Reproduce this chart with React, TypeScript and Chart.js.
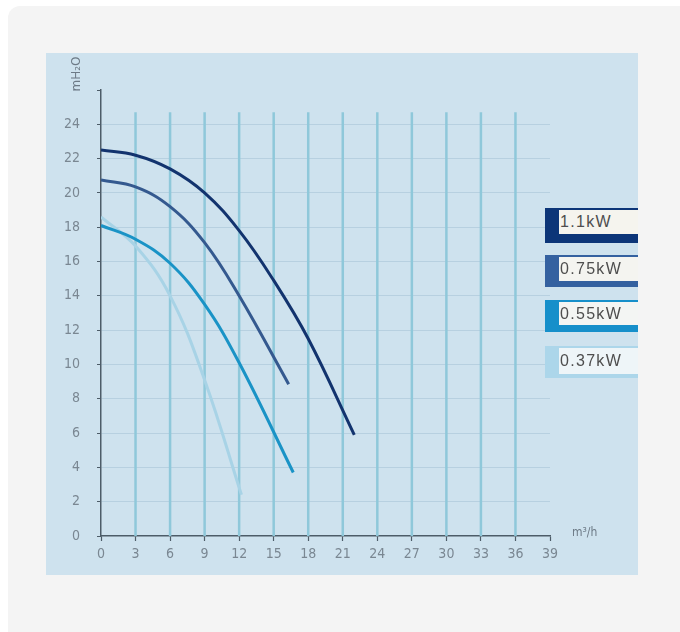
import React, { useEffect, useRef } from "react";
import { Chart, registerables } from "chart.js";

Chart.register(...registerables);

// Flow (m³/h) and head (m) values
const flow11 = [0, 3, 6, 9, 12, 15, 18, 22];
const head11 = [22.5, 22.2, 21.4, 20.0, 17.8, 14.9, 11.5, 5.9];
const flow075 = [0, 3, 6, 9, 12, 16.3];
const head075 = [20.75, 20.35, 19.2, 17.1, 14.0, 8.85];
const flow055 = [0, 3, 6, 9, 12, 16.7];
const head055 = [18.1, 17.3, 15.9, 13.5, 10.1, 3.7];
const flow037 = [0, 3, 6, 9, 12.2];
const head037 = [18.6, 16.9, 14.0, 9.1, 2.4];

const seriesNames = ["1.1kW", "0.75kW", "0.55kW", "0.37kW"];
const seriesColors = ["#12336e", "#34598f", "#1a93c6", "#a8d3e6"];
const legendColors = ["#0c3578", "#3461a0", "#168fca", "#acd6ea"];

const xTicks = [0, 3, 6, 9, 12, 15, 18, 21, 24, 27, 30, 33, 36, 39];
const xGridValues = [3, 6, 9, 12, 15, 18, 21, 24, 27, 30, 33, 36];
const yLabel = "mH\u2082O";
const xUnit = "m\u00b3/h";

const toPts = (xs: number[], ys: number[]) => xs.map((x, i) => ({ x, y: ys[i] }));

const tickFont = { family: "'DejaVu Sans Condensed', 'DejaVu Sans', sans-serif", size: 14 };

export default function App() {
  const ref = useRef<HTMLCanvasElement | null>(null);

  useEffect(() => {
    if (!ref.current) return;
    const flows = [flow11, flow075, flow055, flow037];
    const heads = [head11, head075, head055, head037];

    const decor = {
      id: "decor",
      beforeDatasetsDraw(chart: any) {
        const { ctx, scales } = chart;
        const xs = scales.x;
        const ys = scales.y;
        ctx.save();
        ctx.strokeStyle = "#8fc8da";
        ctx.lineWidth = 2.5;
        xGridValues.forEach((v) => {
          const px = xs.getPixelForValue(v);
          ctx.beginPath();
          ctx.moveTo(px, ys.getPixelForValue(0));
          ctx.lineTo(px, ys.getPixelForValue(24.7));
          ctx.stroke();
        });
        ctx.restore();
      },
      afterDraw(chart: any) {
        const { ctx, scales } = chart;
        const xs = scales.x;
        const ys = scales.y;
        ctx.save();
        ctx.fillStyle = "#6d7a86";
        ctx.font = "12px 'DejaVu Sans', sans-serif";
        ctx.translate(xs.left - 24, ys.top - 16);
        ctx.rotate(-Math.PI / 2);
        ctx.textAlign = "center";
        ctx.textBaseline = "middle";
        ctx.fillText(yLabel, 0, 0);
        ctx.restore();

        ctx.save();
        ctx.fillStyle = "#6d7a86";
        ctx.font = "12px 'DejaVu Sans Condensed', 'DejaVu Sans', sans-serif";
        ctx.textAlign = "left";
        ctx.textBaseline = "middle";
        ctx.fillText(xUnit, xs.right + 22, ys.bottom - 3);
        ctx.restore();
      },
    };

    const chart = new Chart(ref.current, {
      type: "line",
      data: {
        datasets: seriesNames.map((name, i) => ({
          label: name,
          data: toPts(flows[i], heads[i]),
          borderColor: seriesColors[i],
          backgroundColor: seriesColors[i],
          borderWidth: 3,
          pointRadius: 0,
          fill: false,
          tension: 0.4,
        })),
      },
      options: {
        animation: false,
        responsive: false,
        devicePixelRatio: 1,
        layout: { padding: { left: 0, right: 88, top: 37, bottom: 0 } },
        plugins: { legend: { display: false }, tooltip: { enabled: false } },
        scales: {
          x: {
            type: "linear",
            min: 0,
            max: 39,
            afterFit: (s: any) => { s.height = 39; },
            afterBuildTicks: (s: any) => { s.ticks = xTicks.map((v) => ({ value: v })); },
            ticks: { color: "#7a8792", font: tickFont, padding: 5, maxRotation: 0, autoSkip: false },
            grid: { drawOnChartArea: false, drawTicks: true, tickLength: 5, tickColor: "#4d5c68", tickWidth: 1.2 },
            border: { display: true, color: "#4d5c68", width: 1.5 },
          },
          y: {
            type: "linear",
            min: 0,
            max: 26,
            afterFit: (s: any) => { s.width = 55; },
            ticks: {
              stepSize: 2,
              color: "#7a8792",
              font: tickFont,
              padding: 17,
              callback: (v: any) => (v === 26 ? "" : String(v)),
            },
            grid: {
              color: (c: any) => (c.tick && c.tick.value > 0 && c.tick.value < 26 ? "rgba(140,175,198,0.35)" : "rgba(0,0,0,0)"),
              lineWidth: 1,
              drawTicks: true,
              tickLength: 4,
              tickColor: "#4d5c68",
            },
            border: { display: true, color: "#4d5c68", width: 1.5 },
          },
        },
      },
      plugins: [decor],
    });
    return () => chart.destroy();
  }, []);

  const legendBoxes = [
    { top: 208, h: 35, stripe: 9, bg: "#f5f4ee" },
    { top: 255, h: 32, stripe: 6, bg: "#f4f4f0" },
    { top: 300, h: 32, stripe: 7, bg: "#f3f5f3" },
    { top: 346, h: 32, stripe: 4, bg: "#eef5f8" },
  ];

  return (
    <div style={{ position: "fixed", inset: 0, background: "#ffffff" }}>
      <div
        style={{
          position: "fixed",
          left: 8,
          top: 6,
          right: 0,
          bottom: 0,
          background: "#f4f4f4",
          borderTopLeftRadius: 12,
        }}
      />
      <div
        style={{
          position: "fixed",
          left: 46,
          top: 53,
          width: 592,
          height: 522,
          background: "#cee2ee",
        }}
      >
        <canvas ref={ref} width={592} height={522} style={{ display: "block", width: 592, height: 522 }} />
      </div>
      {seriesNames.map((name, i) => {
        const b = legendBoxes[i];
        return (
          <div
            key={name}
            style={{ position: "fixed", left: 545, top: b.top, width: 93, height: b.h, background: legendColors[i] }}
          >
            <div
              style={{
                position: "absolute",
                left: 14,
                top: 2,
                right: 0,
                bottom: b.stripe,
                background: b.bg,
                color: "#4e4e4e",
                fontFamily: "'Liberation Sans', Arial, sans-serif",
                fontSize: 16,
                letterSpacing: 1.3,
                whiteSpace: "nowrap",
                overflow: "hidden",
                lineHeight: `${b.h - b.stripe - 2}px`,
                paddingLeft: 1,
              }}
            >
              {name}
            </div>
          </div>
        );
      })}
    </div>
  );
}
